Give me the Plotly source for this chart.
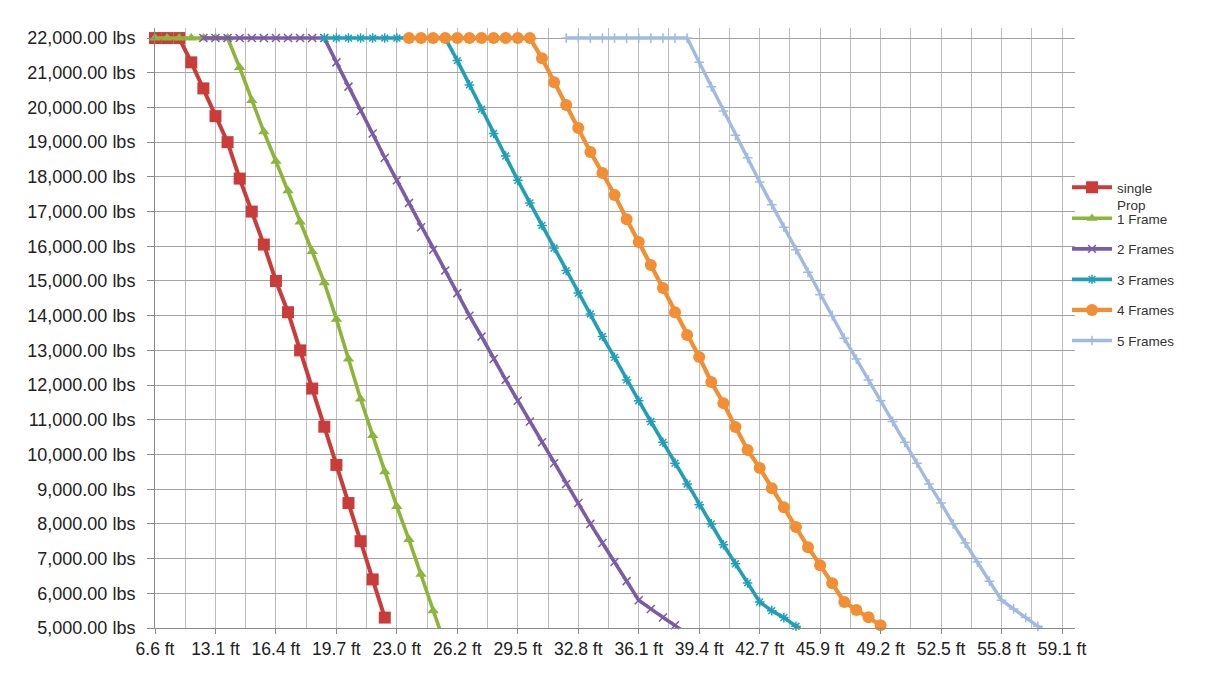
import plotly.graph_objects as go

# ---------------- data ----------------
# height categories (metres) used by all series, 0.2 m apart
heights = [3.0, 3.2, 3.4, 3.6, 3.8, 4.0, 4.2, 4.4, 4.6, 4.8, 5.0, 5.2, 5.4, 5.6, 5.8,
           6.0, 6.2, 6.4, 6.6, 6.8, 7.0, 7.2, 7.4, 7.6, 7.8, 8.0, 8.2, 8.4, 8.6, 8.8,
           9.0, 9.2, 9.4, 9.6, 9.8, 10.0, 10.2, 10.4, 10.6, 10.8, 11.0, 11.2, 11.4, 11.6,
           11.8, 12.0, 12.2, 12.4, 12.6, 12.8, 13.0, 13.2, 13.4, 13.6, 13.8, 14.0, 14.2,
           14.4, 14.6, 14.8, 15.0, 15.2, 15.4, 15.6, 15.8, 16.0, 16.2, 16.4, 16.6, 16.8,
           17.0, 17.2, 17.4, 17.6, 17.8, 18.0]

# tick labels shown on the x axis and the heights they sit at
x_tick_heights = [3, 4, 5, 6, 7, 8, 9, 10, 11, 12, 13, 14, 15, 16, 17, 18]
x_tick_labels = ["6.6 ft", "13.1 ft", "16.4 ft", "19.7 ft", "23.0 ft", "26.2 ft",
                 "29.5 ft", "32.8 ft", "36.1 ft", "39.4 ft", "42.7 ft", "45.9 ft",
                 "49.2 ft", "52.5 ft", "55.8 ft", "59.1 ft"]

series_names = ["single<br>Prop", "1 Frame", "2 Frames", "3 Frames", "4 Frames", "5 Frames"]
series_start = [3.0, 3.0, 3.8, 5.8, 7.2, 9.8]

single_prop = [22000, 22000, 22000, 21300, 20550, 19750, 19000, 17950, 17000, 16050,
               15000, 14100, 13000, 11900, 10800, 9700, 8600, 7500, 6400, 5300]

frame_1 = [22000, 22000, 22000, 22000, 22000, 22000, 22000, 21150, 20200, 19300,
           18450, 17600, 16700, 15850, 14950, 13900, 12750, 11600, 10550, 9500,
           8500, 7550, 6550, 5500, 4500]

frame_2 = [22000, 22000, 22000, 22000, 22000, 22000, 22000, 22000, 22000, 22000,
           22000, 21300, 20600, 19900, 19250, 18550, 17900, 17250, 16550, 15900,
           15300, 14650, 14000, 13400, 12750, 12150, 11550, 10950, 10350, 9750,
           9150, 8600, 8000, 7450, 6900, 6350, 5800, 5550, 5300, 5080, 4830]

frame_3 = [22000, 22000, 22000, 22000, 22000, 22000, 22000, 22000, 22000, 22000,
           22000, 21350, 20650, 19950, 19250, 18600, 17900, 17250, 16600, 15950,
           15300, 14650, 14050, 13400, 12800, 12150, 11550, 10950, 10350, 9750,
           9150, 8550, 8000, 7400, 6850, 6300, 5750, 5500, 5300, 5050, 4800]

frame_4 = [22000, 22000, 22000, 22000, 22000, 22000, 22000, 22000, 22000, 22000,
           22000, 21420, 20730, 20070, 19410, 18720, 18110, 17480, 16780, 16120,
           15460, 14800, 14100, 13440, 12810, 12090, 11480, 10790, 10130, 9610,
           9030, 8480, 7910, 7330, 6810, 6290, 5750, 5520, 5310, 5080]

frame_5 = [22000, 22000, 22000, 22000, 22000, 22000, 22000, 22000, 22000, 22000,
           22000, 21300, 20600, 19900, 19200, 18550, 17850, 17200, 16550, 15900,
           15250, 14600, 14000, 13350, 12750, 12150, 11550, 10950, 10350, 9750,
           9150, 8600, 8000, 7450, 6900, 6350, 5800, 5550, 5300, 5050, 4800]

y_ticks_min, y_ticks_max, y_step = 5000, 22000, 1000

# ---------------- styles ----------------
styles = [
    dict(color="#C93C3A", width=4.0, symbol="square", size=12, mlw=0),
    dict(color="#8DB53C", width=3.6, symbol="triangle-up", size=10, mlw=0),
    dict(color="#7A5CA7", width=3.6, symbol="x-thin-open", size=8, mlw=1.5),
    dict(color="#229FB6", width=3.6, symbol="asterisk-open", size=8, mlw=1.5),
    dict(color="#F28E33", width=4.2, symbol="circle", size=12, mlw=0),
    dict(color="#A2BADF", width=3.4, symbol="cross-thin-open", size=7, mlw=1.5),
]
all_y = [single_prop, frame_1, frame_2, frame_3, frame_4, frame_5]

fig = go.Figure()
for i, (name, start, ys, st) in enumerate(zip(series_names, series_start, all_y, styles)):
    i0 = heights.index(start)
    xs = heights[i0:i0 + len(ys)]
    sizes = [st["size"] if v >= y_ticks_min else 0 for v in ys]
    fig.add_trace(go.Scatter(
        x=xs, y=ys, name=name, mode="lines+markers",
        line=dict(color=st["color"], width=st["width"]),
        marker=dict(symbol=st["symbol"], size=sizes, color=st["color"], opacity=1,
                    line=dict(width=st["mlw"], color=st["color"])),
        cliponaxis=False,
        showlegend=True,
        legend="legend" if i == 0 else "legend2",
        legendgroup="g%d" % i,
    ))

grid_h = "#A3A3A3"
grid_v = "#BDBDBD"
axis_c = "#8A8A8A"

fig.update_layout(
    width=1225, height=673,
    showlegend=True,
    margin=dict(l=155, r=150, t=28, b=45, autoexpand=False),
    paper_bgcolor="white", plot_bgcolor="white",
    font=dict(family="Liberation Sans, Arial, Helvetica, sans-serif", color="#222222"),
    xaxis=dict(
        range=[3, 18.215], tickmode="array", tickvals=x_tick_heights, ticktext=x_tick_labels,
        ticks="outside", ticklen=5, tickcolor=axis_c, showline=True, linecolor=axis_c,
        showgrid=True, gridcolor=grid_v, gridwidth=1, zeroline=False, automargin=False,
        tickfont=dict(size=17.5, color="#222222"),
        minor=dict(tickmode="linear", tick0=3.5, dtick=1, showgrid=True,
                   gridcolor=grid_v, gridwidth=1, ticks=""),
    ),
    yaxis=dict(
        range=[5000, 22290], tick0=y_ticks_min, dtick=y_step, tickformat=",.2f",
        ticksuffix=" lbs", ticks="outside", ticklen=7, tickcolor=axis_c,
        showline=True, linecolor=axis_c, showgrid=True, gridcolor=grid_h, gridwidth=1,
        zeroline=False, automargin=False, tickfont=dict(size=18, color="#222222"),
        ticklabelstandoff=8,
    ),
    legend=dict(
        xref="container", yref="container", x=1067 / 1225, y=1 - 172 / 673,
        xanchor="left", yanchor="top", valign="top", itemwidth=40,
        font=dict(size=13.5, color="#333333"), bgcolor="rgba(0,0,0,0)",
    ),
    legend2=dict(
        xref="container", yref="container", x=1067 / 1225, y=1 - 203 / 673,
        xanchor="left", yanchor="top", tracegroupgap=10, itemwidth=40,
        font=dict(size=13.5, color="#333333"), bgcolor="rgba(0,0,0,0)",
    ),
)

fig.write_html("out.html", config={"displayModeBar": False},
               post_script="document.body.style.margin='0';document.body.style.padding='0';")
